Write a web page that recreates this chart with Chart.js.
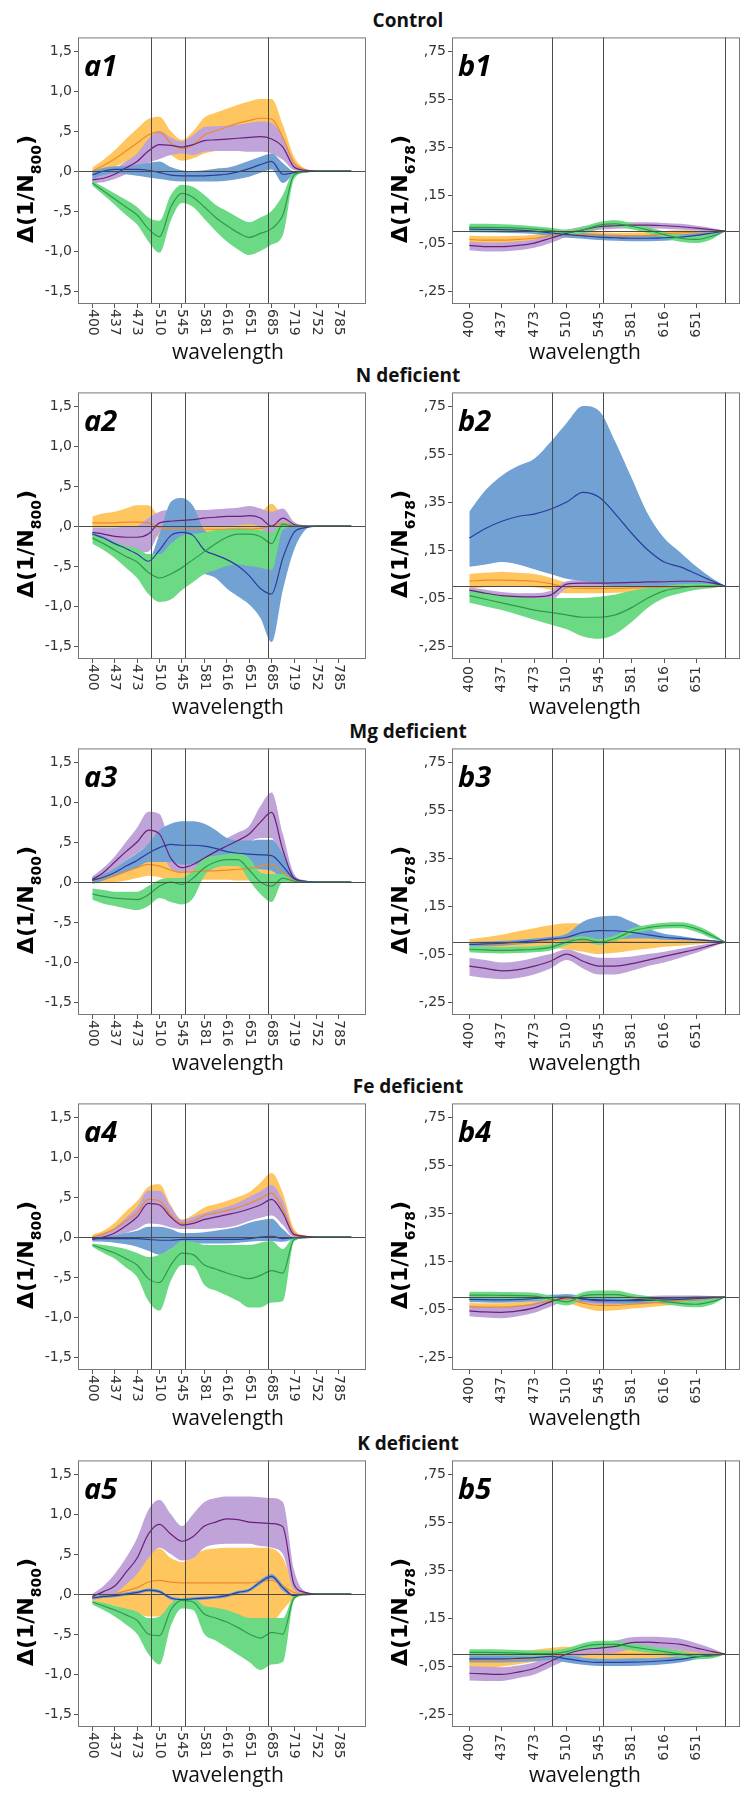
<!DOCTYPE html>
<html>
<head>
<meta charset="utf-8">
<script src="https://cdn.jsdelivr.net/npm/chart.js@4.4.1/dist/chart.umd.min.js"></script>
<style>
body { margin: 0; background: #fff; width: 747px; height: 1798px; position: relative; overflow: hidden; }
canvas { position: absolute; }
.rowtitle { position: absolute; left: 308px; width: 200px; text-align: center; font: bold 19px 'Open Sans', sans-serif; line-height: 20px; color: #111; white-space: nowrap; }
</style>
</head>
<body>
<script>
// axis positions are in "tick index" units (SPSS category axis)
const xTicksA = ['400','437','473','510','545','581','616','651','685','719','752','785'];
const xTicksB = ['400','437','473','510','545','581','616','651'];
const yTickValuesA = [-1.5, -1, -0.5, 0, 0.5, 1, 1.5];
const yTickLabelsA = ['-1,5','-1,0','-,5',',0',',5','1,0','1,5'];
const yTickValuesB = [-0.25, -0.05, 0.15, 0.35, 0.55, 0.75];
const yTickLabelsB = ['-,25','-,05',',15',',35',',55',',75'];
const refLinesA = [2.62, 4.15, 7.84];
const refLinesB = [2.56, 4.12, 7.885];
const rowTitles = ['Control', 'N deficient', 'Mg deficient', 'Fe deficient', 'K deficient'];

const xIdxA = [0,0.5,1,1.5,2,2.5,3,3.5,4,4.5,5,5.5,6,6.5,7,7.5,8,8.5,9,9.5,10,11.55];
const xIdxB = [0,0.5,1,1.5,2,2.5,3,3.5,4,4.5,5,5.5,6,6.5,7,7.5,7.88];

// ---- a1 Control, 1/N800
const a1OrangeMean = [0,0.07,0.15,0.25,0.35,0.45,0.49,0.35,0.28,0.33,0.45,0.5,0.55,0.6,0.63,0.66,0.65,0.42,0.1,0.02,0,0];
const a1OrangeLo = [-0.04,0,0.05,0.12,0.18,0.26,0.3,0.2,0.13,0.16,0.22,0.25,0.28,0.32,0.36,0.38,0.38,0.22,0.03,0,0,0];
const a1OrangeHi = [0.04,0.14,0.26,0.4,0.53,0.65,0.68,0.5,0.39,0.5,0.67,0.73,0.78,0.83,0.87,0.9,0.9,0.58,0.18,0.03,0,0];
const a1PurpleMean = [-0.11,-0.09,-0.04,0.04,0.12,0.25,0.33,0.32,0.3,0.33,0.38,0.39,0.4,0.41,0.42,0.43,0.4,0.3,0.05,0.01,0,0];
const a1PurpleLo = [-0.15,-0.14,-0.1,-0.04,0.02,0.1,0.15,0.2,0.22,0.2,0.24,0.25,0.25,0.25,0.24,0.24,0.22,0.14,0.01,0,0,0];
const a1PurpleHi = [-0.06,-0.04,0.03,0.12,0.22,0.4,0.5,0.42,0.37,0.45,0.55,0.56,0.57,0.58,0.6,0.62,0.6,0.42,0.1,0.02,0,0];
const a1BlueMean = [-0.05,0,0.02,0.02,0.02,0.01,-0.02,-0.05,-0.06,-0.06,-0.06,-0.05,-0.04,-0.01,0.03,0.08,0.12,-0.04,-0.02,0,0,0];
const a1BlueLo = [-0.1,-0.05,-0.03,-0.04,-0.06,-0.08,-0.1,-0.12,-0.13,-0.13,-0.13,-0.13,-0.12,-0.1,-0.07,-0.02,0.02,-0.15,-0.04,-0.01,0,0];
const a1BlueHi = [0,0.04,0.06,0.06,0.08,0.1,0.12,0.05,0.01,0,0.01,0.03,0.04,0.08,0.13,0.18,0.22,0.1,0,0.01,0,0];
const a1GreenMean = [-0.15,-0.25,-0.35,-0.45,-0.55,-0.72,-0.82,-0.45,-0.28,-0.33,-0.45,-0.58,-0.68,-0.77,-0.83,-0.78,-0.72,-0.55,-0.05,-0.01,0,0];
const a1GreenLo = [-0.18,-0.3,-0.42,-0.55,-0.67,-0.88,-1.02,-0.62,-0.4,-0.45,-0.6,-0.75,-0.88,-0.98,-1.05,-1,-0.92,-0.8,-0.1,-0.02,0,0];
const a1GreenHi = [-0.12,-0.2,-0.28,-0.36,-0.45,-0.58,-0.62,-0.3,-0.17,-0.2,-0.3,-0.42,-0.5,-0.58,-0.64,-0.58,-0.5,-0.3,-0.01,0,0,0];

// ---- a2 N deficient
const a2OrangeMean = [0.04,0.04,0.04,0.05,0.05,0.04,-0.02,-0.04,-0.04,-0.04,-0.04,-0.04,-0.04,-0.04,-0.04,-0.03,0,0.03,0.01,0,0,0];
const a2OrangeLo = [-0.02,-0.02,-0.02,-0.02,-0.02,-0.03,-0.15,-0.17,-0.17,-0.17,-0.15,-0.14,-0.14,-0.14,-0.15,-0.18,-0.2,-0.05,0,0,0,0];
const a2OrangeHi = [0.12,0.16,0.18,0.22,0.26,0.26,0.12,0.1,0.1,0.1,0.1,0.1,0.11,0.12,0.13,0.17,0.28,0.12,0.02,0,0,0];
const a2PurpleMean = [-0.08,-0.1,-0.13,-0.14,-0.14,-0.1,0.04,0.06,0.07,0.08,0.1,0.11,0.12,0.12,0.13,0.1,0,0.1,0.02,0,0,0];
const a2PurpleLo = [-0.13,-0.18,-0.24,-0.3,-0.33,-0.32,-0.08,-0.04,-0.03,-0.02,-0.01,0,0,0.01,0.02,-0.02,-0.2,-0.02,0,0,0,0];
const a2PurpleHi = [-0.02,-0.02,-0.02,-0.01,0,0.1,0.18,0.2,0.2,0.2,0.2,0.21,0.22,0.23,0.25,0.22,0.18,0.22,0.05,0.01,0,0];
const a2BlueMean = [-0.1,-0.15,-0.22,-0.28,-0.35,-0.44,-0.3,-0.12,-0.08,-0.12,-0.3,-0.36,-0.42,-0.5,-0.62,-0.78,-0.85,-0.4,-0.08,-0.02,0,0];
const a2BlueLo = [-0.12,-0.17,-0.24,-0.3,-0.37,-0.47,-0.55,-0.5,-0.55,-0.58,-0.6,-0.65,-0.78,-0.88,-0.98,-1.15,-1.45,-0.8,-0.3,-0.05,0,0];
const a2BlueHi = [-0.08,-0.13,-0.2,-0.26,-0.33,-0.41,-0.1,0.3,0.35,0.25,-0.05,-0.1,-0.12,-0.15,-0.18,-0.22,-0.3,0,0,0,0,0];
const a2GreenMean = [-0.15,-0.22,-0.3,-0.38,-0.45,-0.58,-0.65,-0.6,-0.52,-0.42,-0.32,-0.22,-0.14,-0.1,-0.1,-0.13,-0.22,0.02,0,0,0,0];
const a2GreenLo = [-0.22,-0.3,-0.4,-0.52,-0.65,-0.85,-0.95,-0.92,-0.8,-0.7,-0.6,-0.55,-0.5,-0.48,-0.5,-0.52,-0.55,-0.05,-0.01,0,0,0];
const a2GreenHi = [-0.1,-0.15,-0.2,-0.25,-0.28,-0.35,-0.35,-0.22,-0.12,-0.1,-0.08,-0.05,-0.03,-0.02,-0.03,-0.05,-0.08,0.05,0.01,0,0,0];

// ---- a3 Mg deficient
const a3OrangeMean = [0.02,0.05,0.08,0.13,0.18,0.22,0.2,0.15,0.12,0.13,0.14,0.14,0.15,0.16,0.17,0.2,0.22,0.12,0.02,0,0,0];
const a3OrangeLo = [-0.02,-0.01,0,0.02,0.05,0.08,0.06,0.03,0.03,0.03,0.03,0.03,0.03,0.02,0.02,0.03,0.05,0,0,0,0,0];
const a3OrangeHi = [0.08,0.12,0.18,0.24,0.3,0.35,0.32,0.25,0.2,0.23,0.25,0.26,0.28,0.29,0.3,0.35,0.4,0.25,0.05,0.01,0,0];
const a3PurpleMean = [0.03,0.12,0.25,0.38,0.5,0.65,0.6,0.3,0.18,0.22,0.3,0.38,0.45,0.52,0.6,0.75,0.87,0.4,0.05,0.01,0,0];
const a3PurpleLo = [0,0.07,0.16,0.27,0.36,0.45,0.4,0.17,0.12,0.15,0.22,0.3,0.36,0.42,0.5,0.55,0.55,0.18,0.02,0,0,0];
const a3PurpleHi = [0.07,0.18,0.32,0.5,0.68,0.88,0.85,0.45,0.25,0.3,0.38,0.47,0.55,0.62,0.7,0.95,1.12,0.6,0.1,0.02,0,0];
const a3BlueMean = [0.02,0.06,0.12,0.2,0.27,0.36,0.43,0.47,0.46,0.46,0.45,0.42,0.38,0.36,0.35,0.34,0.33,0.2,0.04,0.01,0,0];
const a3BlueLo = [-0.02,0.02,0.07,0.13,0.18,0.25,0.25,0.25,0.22,0.22,0.22,0.22,0.2,0.2,0.18,0.16,0.14,0.05,0.01,0,0,0];
const a3BlueHi = [0.06,0.1,0.17,0.27,0.36,0.48,0.65,0.73,0.76,0.76,0.73,0.65,0.55,0.52,0.52,0.53,0.53,0.35,0.08,0.01,0,0];
const a3GreenMean = [-0.15,-0.18,-0.2,-0.21,-0.22,-0.16,-0.05,0,-0.03,0.05,0.18,0.25,0.28,0.28,0.15,0,-0.05,0.05,0.01,0,0,0];
const a3GreenLo = [-0.22,-0.27,-0.3,-0.33,-0.35,-0.3,-0.2,-0.25,-0.28,-0.2,0.08,0.18,0.2,0.2,0.02,-0.15,-0.25,0,0,0,0,0];
const a3GreenHi = [-0.08,-0.1,-0.12,-0.12,-0.12,-0.05,0.03,0.05,0.05,0.15,0.3,0.33,0.35,0.37,0.3,0.12,0.1,0.1,0.02,0,0,0];

// ---- a4 Fe deficient
const a4OrangeMean = [0,0.04,0.1,0.2,0.3,0.47,0.45,0.28,0.17,0.2,0.27,0.3,0.33,0.37,0.42,0.48,0.55,0.35,0.05,0.01,0,0];
const a4OrangeLo = [-0.03,0,0.03,0.1,0.18,0.3,0.3,0.18,0.12,0.13,0.18,0.2,0.22,0.25,0.3,0.34,0.38,0.2,0.02,0,0,0];
const a4OrangeHi = [0.03,0.08,0.18,0.32,0.45,0.63,0.66,0.4,0.22,0.28,0.37,0.41,0.45,0.5,0.56,0.68,0.8,0.55,0.1,0.02,0,0];
const a4PurpleMean = [-0.03,0,0.05,0.14,0.25,0.42,0.4,0.25,0.15,0.17,0.22,0.25,0.28,0.31,0.35,0.4,0.47,0.3,0.03,0.01,0,0];
const a4PurpleLo = [-0.06,-0.04,0,0.05,0.1,0.17,0.16,0.12,0.1,0.1,0.1,0.11,0.12,0.15,0.2,0.24,0.27,0.15,0,0,0,0];
const a4PurpleHi = [0,0.05,0.12,0.24,0.38,0.58,0.58,0.38,0.21,0.25,0.3,0.34,0.38,0.43,0.5,0.57,0.65,0.45,0.07,0.01,0,0];
const a4BlueMean = [-0.02,-0.02,-0.02,-0.02,-0.02,-0.03,-0.04,-0.04,-0.03,-0.03,-0.03,-0.03,-0.03,-0.03,-0.02,0,0.01,-0.02,-0.01,0,0,0];
const a4BlueLo = [-0.05,-0.06,-0.07,-0.09,-0.12,-0.17,-0.22,-0.15,-0.08,-0.08,-0.08,-0.08,-0.08,-0.07,-0.06,-0.05,-0.05,-0.06,-0.02,0,0,0];
const a4BlueHi = [0,0.01,0.02,0.05,0.08,0.13,0.13,0.1,0.05,0.05,0.06,0.08,0.1,0.13,0.18,0.21,0.23,0.1,0,0,0,0];
const a4GreenMean = [-0.1,-0.15,-0.2,-0.27,-0.35,-0.52,-0.57,-0.35,-0.2,-0.22,-0.35,-0.4,-0.45,-0.49,-0.52,-0.48,-0.42,-0.45,-0.03,-0.01,0,0];
const a4GreenLo = [-0.12,-0.2,-0.27,-0.38,-0.5,-0.8,-0.92,-0.55,-0.35,-0.36,-0.6,-0.67,-0.73,-0.8,-0.88,-0.88,-0.82,-0.8,-0.06,-0.01,0,0];
const a4GreenHi = [-0.08,-0.1,-0.12,-0.15,-0.2,-0.25,-0.22,-0.15,-0.05,-0.06,-0.1,-0.1,-0.1,-0.1,-0.1,-0.07,-0.05,-0.15,0,0,0,0];

// ---- a5 K deficient
const a5OrangeMean = [-0.05,-0.03,0,0.04,0.08,0.15,0.17,0.15,0.14,0.14,0.14,0.14,0.14,0.14,0.14,0.16,0.17,0.1,0.02,0,0,0];
const a5OrangeLo = [-0.1,-0.12,-0.15,-0.2,-0.25,-0.28,-0.28,-0.25,-0.15,-0.18,-0.22,-0.26,-0.3,-0.32,-0.33,-0.34,-0.35,-0.2,-0.05,0,0,0];
const a5OrangeHi = [0,0.05,0.12,0.23,0.35,0.5,0.57,0.45,0.4,0.48,0.55,0.57,0.58,0.58,0.58,0.58,0.57,0.45,0.1,0.01,0,0];
const a5PurpleMean = [-0.03,0.03,0.1,0.27,0.45,0.75,0.87,0.75,0.66,0.72,0.85,0.9,0.94,0.93,0.9,0.89,0.88,0.84,0.12,0.02,0,0];
const a5PurpleLo = [-0.06,-0.03,0,0.12,0.25,0.45,0.58,0.5,0.42,0.45,0.58,0.62,0.63,0.63,0.63,0.6,0.58,0.5,0.05,0,0,0];
const a5PurpleHi = [0,0.1,0.25,0.45,0.7,1.05,1.18,1,0.85,1,1.15,1.2,1.22,1.22,1.22,1.21,1.2,1.15,0.3,0.03,0,0];
const a5BlueMean = [-0.05,-0.03,-0.02,0,0.02,0.05,0.03,-0.05,-0.07,-0.06,-0.05,-0.04,-0.02,0.02,0.05,0.15,0.22,0.08,-0.02,0,0,0];
const a5BlueLo = [-0.07,-0.05,-0.04,-0.02,0,0.03,0.01,-0.07,-0.09,-0.08,-0.07,-0.06,-0.04,0,0.03,0.12,0.19,0.04,-0.03,-0.01,0,0];
const a5BlueHi = [-0.03,-0.01,0,0.02,0.04,0.07,0.05,-0.03,-0.05,-0.04,-0.03,-0.02,0,0.04,0.07,0.18,0.25,0.12,-0.01,0.01,0,0];
const a5GreenMean = [-0.1,-0.15,-0.2,-0.26,-0.33,-0.5,-0.52,-0.2,-0.08,-0.1,-0.25,-0.3,-0.35,-0.42,-0.5,-0.55,-0.48,-0.5,-0.05,-0.01,0,0];
const a5GreenLo = [-0.13,-0.2,-0.28,-0.38,-0.5,-0.75,-0.88,-0.4,-0.18,-0.2,-0.5,-0.58,-0.67,-0.76,-0.85,-0.95,-0.88,-0.85,-0.08,-0.01,0,0];
const a5GreenHi = [-0.08,-0.11,-0.15,-0.18,-0.22,-0.3,-0.28,-0.12,-0.05,-0.05,-0.15,-0.17,-0.2,-0.25,-0.3,-0.3,-0.3,-0.3,-0.02,0,0,0];

// ---- b1 Control, 1/N678
const b1OrangeMean = [-0.035,-0.038,-0.038,-0.035,-0.03,-0.02,-0.015,-0.015,-0.018,-0.02,-0.02,-0.018,-0.012,-0.008,-0.005,-0.002,0];
const b1OrangeLo = [-0.05,-0.055,-0.055,-0.05,-0.045,-0.035,-0.028,-0.028,-0.03,-0.032,-0.032,-0.03,-0.025,-0.018,-0.012,-0.006,0];
const b1OrangeHi = [-0.02,-0.022,-0.022,-0.02,-0.015,-0.007,-0.003,-0.002,-0.005,-0.007,-0.007,-0.005,0,0.003,0.003,0.002,0];
const b1PurpleMean = [-0.06,-0.065,-0.065,-0.06,-0.05,-0.03,-0.01,0.005,0.018,0.022,0.025,0.025,0.022,0.018,0.012,0.005,0];
const b1PurpleLo = [-0.08,-0.085,-0.085,-0.08,-0.07,-0.05,-0.025,-0.01,0.005,0.01,0.012,0.012,0.01,0.006,0.002,-0.002,0];
const b1PurpleHi = [-0.045,-0.048,-0.048,-0.043,-0.035,-0.015,0.005,0.02,0.03,0.035,0.037,0.037,0.034,0.03,0.022,0.012,0];
const b1BlueMean = [0.008,0.007,0.006,0.004,0,-0.008,-0.015,-0.02,-0.025,-0.028,-0.03,-0.03,-0.028,-0.025,-0.018,-0.008,0];
const b1BlueLo = [-0.005,-0.006,-0.007,-0.009,-0.012,-0.02,-0.027,-0.032,-0.037,-0.04,-0.042,-0.042,-0.04,-0.036,-0.028,-0.016,0];
const b1BlueHi = [0.02,0.02,0.019,0.017,0.013,0.005,-0.003,-0.008,-0.012,-0.015,-0.017,-0.017,-0.015,-0.013,-0.008,-0.002,0];
const b1GreenMean = [0.015,0.015,0.014,0.012,0.008,0.002,-0.005,0.005,0.025,0.03,0.02,0.005,-0.015,-0.03,-0.035,-0.02,0];
const b1GreenLo = [0.002,0.002,0.001,-0.001,-0.005,-0.01,-0.018,-0.008,0.012,0.017,0.007,-0.008,-0.028,-0.045,-0.05,-0.032,0];
const b1GreenHi = [0.03,0.03,0.028,0.025,0.02,0.014,0.006,0.018,0.038,0.045,0.033,0.018,-0.002,-0.017,-0.02,-0.008,0];

// ---- b2 N deficient
const b2OrangeMean = [0.02,0.025,0.025,0.023,0.02,0.01,-0.005,-0.01,-0.01,-0.01,-0.008,-0.006,-0.005,-0.004,-0.003,-0.002,0];
const b2OrangeLo = [-0.01,-0.005,0,-0.002,-0.005,-0.015,-0.03,-0.03,-0.03,-0.028,-0.025,-0.022,-0.02,-0.015,-0.01,-0.005,0];
const b2OrangeHi = [0.05,0.055,0.06,0.055,0.05,0.035,0.015,0.01,0.008,0.006,0.005,0.004,0.003,0.003,0.002,0.001,0];
const b2PurpleMean = [-0.017,-0.03,-0.04,-0.044,-0.045,-0.038,0.008,0.012,0.012,0.013,0.015,0.017,0.018,0.02,0.02,0.012,0];
const b2PurpleLo = [-0.03,-0.045,-0.055,-0.06,-0.062,-0.06,-0.01,-0.002,-0.002,0,0.002,0.004,0.005,0.006,0.006,0.003,0];
const b2PurpleHi = [-0.005,-0.015,-0.025,-0.03,-0.03,-0.02,0.02,0.025,0.026,0.027,0.028,0.03,0.032,0.033,0.033,0.022,0];
const b2BlueMean = [0.2,0.24,0.27,0.29,0.3,0.32,0.35,0.39,0.37,0.3,0.22,0.15,0.1,0.08,0.05,0.02,0];
const b2BlueLo = [0.08,0.09,0.1,0.09,0.07,0.05,0.03,0.02,0.01,0,0,0,0,0,0,0,0];
const b2BlueHi = [0.31,0.4,0.46,0.5,0.53,0.6,0.68,0.75,0.73,0.6,0.45,0.3,0.2,0.14,0.08,0.03,0];
const b2GreenMean = [-0.04,-0.055,-0.07,-0.085,-0.1,-0.11,-0.12,-0.13,-0.13,-0.12,-0.09,-0.05,-0.02,-0.008,0,0,0];
const b2GreenLo = [-0.07,-0.085,-0.1,-0.12,-0.14,-0.16,-0.18,-0.21,-0.22,-0.2,-0.15,-0.09,-0.05,-0.03,-0.015,-0.008,0];
const b2GreenHi = [-0.015,-0.025,-0.04,-0.045,-0.05,-0.05,-0.05,-0.05,-0.045,-0.035,-0.02,-0.008,0,0.008,0.01,0.008,0];

// ---- b3 Mg deficient
const b3OrangeMean = [-0.01,-0.01,-0.008,-0.004,0,0.005,0.01,0.006,0.002,0.001,0,0,0,0,0,0,0];
const b3OrangeLo = [-0.03,-0.028,-0.025,-0.022,-0.02,-0.025,-0.03,-0.04,-0.05,-0.045,-0.035,-0.028,-0.02,-0.015,-0.01,-0.005,0];
const b3OrangeHi = [0.012,0.02,0.03,0.045,0.058,0.07,0.078,0.076,0.06,0.045,0.032,0.026,0.02,0.015,0.01,0.005,0];
const b3PurpleMean = [-0.1,-0.11,-0.12,-0.115,-0.1,-0.08,-0.05,-0.08,-0.1,-0.1,-0.09,-0.075,-0.06,-0.045,-0.03,-0.012,0];
const b3PurpleLo = [-0.14,-0.15,-0.155,-0.15,-0.135,-0.11,-0.075,-0.11,-0.135,-0.135,-0.12,-0.1,-0.085,-0.065,-0.045,-0.02,0];
const b3PurpleHi = [-0.065,-0.075,-0.085,-0.08,-0.065,-0.05,-0.03,-0.05,-0.065,-0.065,-0.06,-0.05,-0.04,-0.028,-0.015,-0.005,0];
const b3BlueMean = [-0.01,-0.008,-0.005,0,0.005,0.012,0.02,0.04,0.048,0.047,0.04,0.03,0.02,0.015,0.01,0.005,0];
const b3BlueLo = [-0.02,-0.018,-0.015,-0.01,-0.005,0.002,0.01,0.01,0.005,0.01,0.015,0.015,0.01,0.008,0.005,0.002,0];
const b3BlueHi = [0,0.002,0.005,0.01,0.015,0.022,0.035,0.085,0.105,0.11,0.085,0.055,0.035,0.025,0.015,0.008,0];
const b3GreenMean = [-0.03,-0.033,-0.035,-0.033,-0.03,-0.022,0,0.012,0,0.015,0.045,0.06,0.068,0.07,0.055,0.025,0];
const b3GreenLo = [-0.042,-0.046,-0.048,-0.046,-0.043,-0.035,-0.012,0,-0.012,0.003,0.032,0.048,0.056,0.058,0.042,0.014,0];
const b3GreenHi = [-0.018,-0.02,-0.022,-0.02,-0.017,-0.01,0.012,0.024,0.012,0.028,0.058,0.072,0.08,0.082,0.068,0.036,0];

// ---- b4 Fe deficient
const b4OrangeMean = [-0.04,-0.042,-0.042,-0.038,-0.03,-0.015,-0.01,-0.025,-0.035,-0.035,-0.03,-0.025,-0.022,-0.016,-0.01,-0.004,0];
const b4OrangeLo = [-0.055,-0.058,-0.058,-0.053,-0.045,-0.03,-0.025,-0.045,-0.058,-0.055,-0.048,-0.042,-0.036,-0.03,-0.02,-0.01,0];
const b4OrangeHi = [-0.025,-0.026,-0.026,-0.022,-0.015,0,0.005,-0.008,-0.015,-0.015,-0.012,-0.009,-0.007,-0.004,0,0.002,0];
const b4PurpleMean = [-0.058,-0.062,-0.064,-0.058,-0.045,-0.02,-0.002,-0.008,-0.015,-0.015,-0.012,-0.008,-0.005,-0.003,-0.001,0,0];
const b4PurpleLo = [-0.08,-0.085,-0.088,-0.08,-0.065,-0.04,-0.018,-0.022,-0.03,-0.03,-0.025,-0.02,-0.016,-0.012,-0.008,-0.004,0];
const b4PurpleHi = [-0.035,-0.04,-0.042,-0.036,-0.025,0,0.012,0.006,0,0,0.002,0.004,0.006,0.006,0.006,0.004,0];
const b4BlueMean = [-0.01,-0.011,-0.012,-0.01,-0.006,-0.002,0,-0.008,-0.012,-0.014,-0.015,-0.014,-0.012,-0.01,-0.006,-0.003,0];
const b4BlueLo = [-0.022,-0.023,-0.024,-0.022,-0.018,-0.014,-0.012,-0.02,-0.025,-0.027,-0.028,-0.026,-0.024,-0.021,-0.016,-0.009,0];
const b4BlueHi = [0.002,0.001,0,0.002,0.006,0.01,0.012,0.004,0,-0.001,-0.002,-0.002,0,0.001,0.003,0.003,0];
const b4GreenMean = [0.008,0.008,0.007,0.006,0.004,-0.008,-0.02,0.005,0.01,0.01,0,-0.008,-0.018,-0.026,-0.03,-0.018,0];
const b4GreenLo = [-0.006,-0.006,-0.007,-0.008,-0.01,-0.022,-0.035,-0.01,-0.005,-0.005,-0.013,-0.021,-0.03,-0.038,-0.043,-0.03,0];
const b4GreenHi = [0.022,0.022,0.021,0.02,0.018,0.006,-0.006,0.02,0.027,0.027,0.014,0.004,-0.006,-0.014,-0.017,-0.006,0];

// ---- b5 K deficient
const b5OrangeMean = [-0.028,-0.027,-0.025,-0.022,-0.018,-0.01,-0.002,0,0,0,0,0,0,0,0,0,0];
const b5OrangeLo = [-0.06,-0.058,-0.052,-0.042,-0.032,-0.025,-0.02,-0.025,-0.03,-0.032,-0.034,-0.035,-0.035,-0.03,-0.02,-0.01,0];
const b5OrangeHi = [0,0.002,0.005,0.01,0.018,0.025,0.03,0.03,0.03,0.03,0.03,0.03,0.028,0.022,0.014,0.007,0];
const b5PurpleMean = [-0.08,-0.083,-0.085,-0.075,-0.06,-0.03,0,0.018,0.025,0.032,0.048,0.05,0.046,0.04,0.025,0.01,0];
const b5PurpleLo = [-0.11,-0.112,-0.112,-0.1,-0.085,-0.055,-0.025,-0.008,-0.002,0.005,0.02,0.022,0.02,0.016,0.006,-0.002,0];
const b5PurpleHi = [-0.05,-0.053,-0.055,-0.048,-0.035,-0.008,0.02,0.04,0.048,0.056,0.07,0.072,0.07,0.064,0.045,0.022,0];
const b5BlueMean = [-0.02,-0.02,-0.02,-0.018,-0.015,-0.01,-0.02,-0.03,-0.035,-0.035,-0.034,-0.032,-0.028,-0.022,-0.012,-0.005,0];
const b5BlueLo = [-0.035,-0.035,-0.035,-0.033,-0.03,-0.025,-0.035,-0.045,-0.05,-0.05,-0.05,-0.047,-0.042,-0.035,-0.022,-0.01,0];
const b5BlueHi = [-0.005,-0.005,-0.005,-0.003,0,0.005,-0.005,-0.015,-0.02,-0.02,-0.018,-0.017,-0.014,-0.01,-0.003,0,0];
const b5GreenMean = [0.007,0.007,0.006,0.004,0.002,0.002,0.01,0.03,0.04,0.04,0.03,0.02,0.01,0,-0.01,-0.008,0];
const b5GreenLo = [-0.006,-0.006,-0.007,-0.009,-0.011,-0.011,-0.003,0.015,0.025,0.025,0.016,0.006,-0.004,-0.014,-0.022,-0.018,0];
const b5GreenHi = [0.02,0.02,0.019,0.017,0.015,0.015,0.024,0.045,0.055,0.055,0.044,0.034,0.024,0.014,0.002,0.002,0];

const bandColors = { orange: '#FFC55E', purple: '#C0A3D8', blue: '#72A2D3', green: '#6CDA84' };
const lineColors = { orange: '#EE8A2C', purple: '#6C1F7A', blue: '#2B3C9E', green: '#2E9A4A' };
const drawOrder = ['orange', 'purple', 'blue', 'green'];

const rowTops = [37, 392, 748, 1103, 1460];
const sides = {
  A: { left: 0, width: 374, padRight: 8, xMin: -0.638, xMax: 12.21, yMin: -1.6625, yMax: 1.671,
       xs: xIdxA, xTicks: xTicksA, yVals: yTickValuesA, yLabs: yTickLabelsA, refs: refLinesA,
       sub: '800', rot: 1, labGap: 5, xTitleX: 228 },
  B: { left: 374, width: 373, padRight: 7, xMin: -0.533, xMax: 8.337, yMin: -0.304, yMax: 0.807,
       xs: xIdxB, xTicks: xTicksB, yVals: yTickValuesB, yLabs: yTickLabelsB, refs: refLinesB,
       sub: '678', rot: -1, labGap: 7, xTitleX: 211 }
};

const panels = [
  { name: 'a1', side: 'A', row: 0, s: { orange: [a1OrangeMean, a1OrangeLo, a1OrangeHi], purple: [a1PurpleMean, a1PurpleLo, a1PurpleHi], blue: [a1BlueMean, a1BlueLo, a1BlueHi], green: [a1GreenMean, a1GreenLo, a1GreenHi] } },
  { name: 'b1', side: 'B', row: 0, s: { orange: [b1OrangeMean, b1OrangeLo, b1OrangeHi], purple: [b1PurpleMean, b1PurpleLo, b1PurpleHi], blue: [b1BlueMean, b1BlueLo, b1BlueHi], green: [b1GreenMean, b1GreenLo, b1GreenHi] } },
  { name: 'a2', side: 'A', row: 1, s: { orange: [a2OrangeMean, a2OrangeLo, a2OrangeHi], purple: [a2PurpleMean, a2PurpleLo, a2PurpleHi], blue: [a2BlueMean, a2BlueLo, a2BlueHi], green: [a2GreenMean, a2GreenLo, a2GreenHi] } },
  { name: 'b2', side: 'B', row: 1, s: { orange: [b2OrangeMean, b2OrangeLo, b2OrangeHi], purple: [b2PurpleMean, b2PurpleLo, b2PurpleHi], blue: [b2BlueMean, b2BlueLo, b2BlueHi], green: [b2GreenMean, b2GreenLo, b2GreenHi] } },
  { name: 'a3', side: 'A', row: 2, s: { orange: [a3OrangeMean, a3OrangeLo, a3OrangeHi], purple: [a3PurpleMean, a3PurpleLo, a3PurpleHi], blue: [a3BlueMean, a3BlueLo, a3BlueHi], green: [a3GreenMean, a3GreenLo, a3GreenHi] } },
  { name: 'b3', side: 'B', row: 2, s: { orange: [b3OrangeMean, b3OrangeLo, b3OrangeHi], purple: [b3PurpleMean, b3PurpleLo, b3PurpleHi], blue: [b3BlueMean, b3BlueLo, b3BlueHi], green: [b3GreenMean, b3GreenLo, b3GreenHi] } },
  { name: 'a4', side: 'A', row: 3, s: { orange: [a4OrangeMean, a4OrangeLo, a4OrangeHi], purple: [a4PurpleMean, a4PurpleLo, a4PurpleHi], blue: [a4BlueMean, a4BlueLo, a4BlueHi], green: [a4GreenMean, a4GreenLo, a4GreenHi] } },
  { name: 'b4', side: 'B', row: 3, s: { orange: [b4OrangeMean, b4OrangeLo, b4OrangeHi], purple: [b4PurpleMean, b4PurpleLo, b4PurpleHi], blue: [b4BlueMean, b4BlueLo, b4BlueHi], green: [b4GreenMean, b4GreenLo, b4GreenHi] } },
  { name: 'a5', side: 'A', row: 4, s: { orange: [a5OrangeMean, a5OrangeLo, a5OrangeHi], purple: [a5PurpleMean, a5PurpleLo, a5PurpleHi], blue: [a5BlueMean, a5BlueLo, a5BlueHi], green: [a5GreenMean, a5GreenLo, a5GreenHi] } },
  { name: 'b5', side: 'B', row: 4, s: { orange: [b5OrangeMean, b5OrangeLo, b5OrangeHi], purple: [b5PurpleMean, b5PurpleLo, b5PurpleHi], blue: [b5BlueMean, b5BlueLo, b5BlueHi], green: [b5GreenMean, b5GreenLo, b5GreenHi] } }
];

// frame, reference lines and all the SPSS-style text
const framePlugin = {
  id: 'frame',
  afterDatasetsDraw(chart, args, o) {
    const { ctx, chartArea: a, scales: { x, y } } = chart;
    ctx.save();
    ctx.strokeStyle = '#4a4a4a';
    ctx.lineWidth = 1;
    ctx.beginPath();
    o.refs.forEach(v => {
      const px = Math.round(x.getPixelForValue(v)) + 0.5;
      ctx.moveTo(px, a.top); ctx.lineTo(px, a.bottom);
    });
    const py = Math.round(y.getPixelForValue(0)) + 0.5;
    ctx.moveTo(a.left, py); ctx.lineTo(a.right, py);
    ctx.stroke();
    ctx.restore();
  },
  afterDraw(chart, args, o) {
    const { ctx, chartArea: a, scales: { x } } = chart;
    ctx.save();
    ctx.strokeStyle = '#777';
    ctx.lineWidth = 1;
    ctx.strokeRect(a.left + 0.5, a.top + 0.5, a.right - a.left - 1, a.bottom - a.top - 1);

    // rotated category labels
    ctx.fillStyle = '#333';
    ctx.font = "14px 'DejaVu Sans'";
    ctx.textBaseline = 'middle';
    o.xTicks.forEach((t, i) => {
      ctx.save();
      ctx.translate(x.getPixelForValue(i), a.bottom + o.labGap);
      ctx.rotate(o.rot * Math.PI / 2);
      ctx.textAlign = o.rot > 0 ? 'left' : 'right';
      ctx.fillText(t, 0, 0);
      ctx.restore();
    });

    ctx.fillStyle = '#111';
    ctx.font = "21px 'Open Sans'";
    ctx.textAlign = 'center';
    ctx.fillText('wavelength', o.xTitleX, a.bottom + 49);

    // y title with subscript
    ctx.save();
    ctx.translate(33, 162);
    ctx.rotate(-Math.PI / 2);
    ctx.textAlign = 'left';
    ctx.textBaseline = 'alphabetic';
    ctx.fillStyle = '#000';
    const big = "bold 22px 'DejaVu Sans'", small = "bold 14px 'DejaVu Sans'";
    ctx.font = big;
    const w1 = ctx.measureText('Δ(1/N').width, w3 = ctx.measureText(')').width;
    ctx.font = small;
    const w2 = ctx.measureText(o.sub).width;
    const x0 = -(w1 + w2 + w3) / 2;
    ctx.font = big; ctx.fillText('Δ(1/N', x0, 0);
    ctx.font = small; ctx.fillText(o.sub, x0 + w1, 8);
    ctx.font = big; ctx.fillText(')', x0 + w1 + w2, 0);
    ctx.restore();

    ctx.fillStyle = '#000';
    ctx.font = "italic bold 29px 'Open Sans'";
    ctx.textAlign = 'left';
    ctx.textBaseline = 'alphabetic';
    ctx.fillText(o.label, a.left + 6, a.top + 39);
    ctx.restore();
  }
};

function pts(xs, ys) {
  return xs.map((v, i) => ({ x: v, y: ys[i] }));
}

rowTitles.forEach((t, r) => {
  const d = document.createElement('div');
  d.className = 'rowtitle';
  d.style.top = (rowTops[r] - 27) + 'px';
  d.textContent = t;
  document.body.appendChild(d);
});

panels.forEach(p => {
  const sd = sides[p.side];
  const cv = document.createElement('canvas');
  cv.width = sd.width;
  cv.height = 352;
  cv.style.left = sd.left + 'px';
  cv.style.top = (rowTops[p.row] - 10) + 'px';
  document.body.appendChild(cv);

  const datasets = [];
  drawOrder.forEach((c, k) => {
    const [, lo, hi] = p.s[c];
    datasets.push({ data: pts(sd.xs, lo), borderWidth: 0, borderColor: 'rgba(0,0,0,0)', pointRadius: 0,
                    fill: false, order: 20 - k, cubicInterpolationMode: 'monotone' });
    datasets.push({ data: pts(sd.xs, hi), borderWidth: 0, borderColor: 'rgba(0,0,0,0)', pointRadius: 0,
                    backgroundColor: bandColors[c], fill: '-1', order: 20 - k, cubicInterpolationMode: 'monotone' });
  });
  drawOrder.forEach((c, k) => {
    datasets.push({ data: pts(sd.xs, p.s[c][0]), borderColor: lineColors[c], borderWidth: 1.2, pointRadius: 0,
                    fill: false, order: 4 - k, cubicInterpolationMode: 'monotone' });
  });

  const tickGrid = { drawOnChartArea: false, drawTicks: true, tickLength: 4, color: '#555' };
  new Chart(cv, {
    type: 'line',
    data: { datasets },
    plugins: [framePlugin],
    options: {
      responsive: false,
      animation: false,
      events: [],
      layout: { padding: { top: 10, left: 0, right: sd.padRight, bottom: 0 } },
      plugins: {
        legend: { display: false },
        tooltip: { enabled: false },
        frame: { refs: sd.refs, xTicks: sd.xTicks, rot: sd.rot, labGap: sd.labGap,
                 xTitleX: sd.xTitleX, sub: sd.sub, label: p.name }
      },
      scales: {
        x: {
          type: 'linear', min: sd.xMin, max: sd.xMax,
          afterBuildTicks: s => { s.ticks = sd.xTicks.map((t, i) => ({ value: i })); },
          afterFit: s => { s.height = 75; },
          ticks: { display: false },
          grid: tickGrid,
          border: { display: false }
        },
        y: {
          type: 'linear', min: sd.yMin, max: sd.yMax,
          afterBuildTicks: s => { s.ticks = sd.yVals.map(v => ({ value: v })); },
          afterFit: s => { s.width = 78; },
          ticks: { autoSkip: false, padding: 2, color: '#333', font: { family: 'DejaVu Sans', size: 14 },
                   callback: (v, i) => sd.yLabs[i] },
          grid: tickGrid,
          border: { display: false }
        }
      }
    }
  });
});
</script>
</body>
</html>
